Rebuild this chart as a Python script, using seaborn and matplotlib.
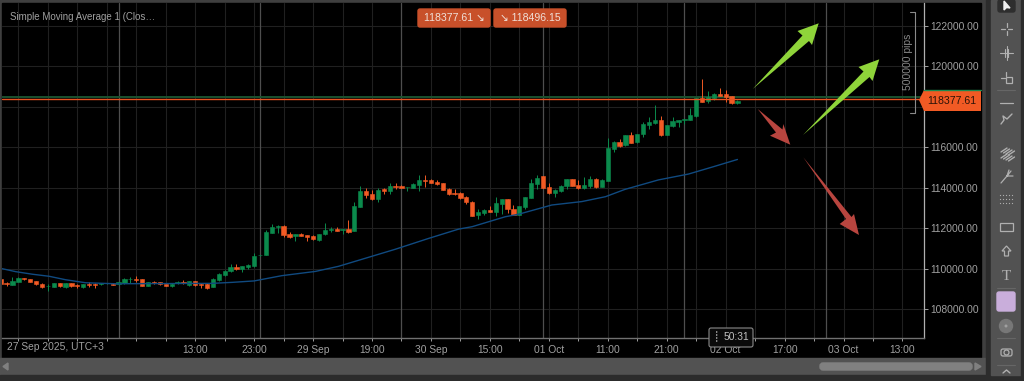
import matplotlib
matplotlib.use('Agg')
import matplotlib.pyplot as plt
from matplotlib.patches import Rectangle, Polygon, FancyBboxPatch, Circle
import pandas as pd
import seaborn as sns

# candles (prices)
opens = [109500, 109300, 109200, 109360, 109530, 109500, 109380, 109260, 109150, 109120,
         109280, 109100, 109280, 109180, 109100, 109250, 109250, 109230, 109280, 109260,
         109230, 109280, 109480, 109480, 109480, 109170, 109350, 109330, 109250, 109150,
         109280, 109350, 109220, 109400, 109260, 109250, 109120, 109430, 109680, 109870,
         110090, 110000, 110100, 110140, 110660, 110700, 111780, 112050, 112130, 111720,
         111600, 111720, 111650, 111640, 111420, 111700, 111900, 111970, 111920, 111970,
         111870, 113050, 113860, 113680, 113450, 113920, 113840, 114090, 114090, 114020,
         114010, 114150, 114390, 114390, 114300, 114220, 113940, 113730, 113740, 113560,
         113320, 112660, 112740, 112890, 112820, 113200, 113430, 112970, 112670, 113050,
         113510, 114190, 114580, 114020, 113760, 113860, 114070, 114420, 114140, 113970,
         114110, 114440, 114060, 114350, 115930, 116280, 116100, 116630, 116250, 116640,
         117120, 117200, 117370, 116610, 117070, 117270, 117370, 117370, 117560, 118420,
         118290, 118450, 118630, 118620, 118540, 118190]
closes = [109250, 109230, 109400, 109530, 109480, 109360, 109230, 109080, 109170, 109280,
          109130, 109280, 109130, 109150, 109230, 109220, 109220, 109280, 109300, 109200,
          109330, 109500, 109500, 109450, 109170, 109330, 109280, 109230, 109150, 109260,
          109350, 109310, 109380, 109220, 109220, 109070, 109500, 109730, 109890, 110090,
          109990, 110120, 110190, 110630, 110680, 111820, 112050, 112130, 111670, 111590,
          111700, 111640, 111590, 111450, 111720, 111920, 111970, 111880, 111950, 111830,
          113100, 113860, 113640, 113430, 113910, 113840, 114090, 114020, 114010, 114040,
          114190, 114370, 114350, 114250, 114170, 113910, 113710, 113690, 113510, 113300,
          112620, 112790, 112900, 112820, 113250, 113450, 112950, 112670, 113080, 113550,
          114220, 114480, 113990, 113740, 113890, 114110, 114420, 114110, 113990, 114140,
          114420, 114060, 114390, 115950, 116280, 116050, 116610, 116230, 116660, 117140,
          117250, 117350, 116590, 117100, 117300, 117350, 117380, 117600, 118440, 118260,
          118470, 118620, 118550, 118500, 118170, 118300]
highs = [109510, 109350, 109580, 109580, 109540, 109510, 109410, 109280, 109230, 109310,
         109310, 109310, 109300, 109250, 109250, 109330, 109280, 109300, 109310, 109300,
         109350, 109560, 109580, 109660, 109500, 109360, 109380, 109350, 109260, 109280,
         109400, 109430, 109410, 109410, 109300, 109280, 109560, 109780, 109940, 110250,
         110250, 110150, 110250, 110760, 110700, 111920, 112200, 112180, 112150, 111830,
         111720, 111770, 111670, 111680, 111730, 112260, 112050, 112050, 111960, 112410,
         113310, 114090, 113970, 113890, 113970, 114010, 114250, 114250, 114120, 114060,
         114220, 114620, 114650, 114450, 114370, 114240, 113970, 113920, 113780, 113580,
         113330, 112970, 112940, 113100, 113530, 113460, 113450, 113150, 113100, 113560,
         114440, 114620, 114600, 114220, 113920, 114140, 114450, 114440, 114390, 114550,
         114580, 114490, 114420, 116440, 116310, 116430, 116630, 116740, 116670, 117270,
         117510, 118090, 117550, 117120, 117480, 117370, 117400, 117940, 118450, 119360,
         118770, 118670, 118930, 118830, 118550, 118320]
lows = [109230, 109170, 109200, 109350, 109460, 109350, 109180, 109070, 108920, 109100,
        109120, 109070, 109120, 109070, 109030, 109120, 109030, 109200, 109250, 109180,
        109220, 109260, 109310, 109350, 109150, 109150, 109260, 109220, 109130, 109100,
        109250, 109260, 109150, 109150, 109050, 109020, 109100, 109400, 109640, 109860,
        109940, 109860, 109970, 110100, 110650, 110680, 111750, 111780, 111550, 111500,
        111390, 111600, 111390, 111420, 111360, 111670, 111830, 111870, 111730, 111750,
        111850, 113030, 113480, 113400, 113300, 113680, 113680, 113920, 113970, 113860,
        113990, 113860, 114060, 114220, 114140, 113890, 113640, 113640, 113430, 113200,
        112590, 112460, 112640, 112790, 112620, 112710, 112740, 112660, 112660, 112970,
        113480, 113940, 113970, 113690, 113560, 113810, 113960, 114090, 113920, 113960,
        113970, 114010, 114040, 114320, 115790, 116000, 116080, 116210, 116230, 116530,
        116910, 117150, 116580, 116590, 117020, 116990, 117150, 117350, 117510, 118220,
        118210, 118350, 118540, 118260, 118120, 118120]

# moving average, read at the places where it visibly bends
sma_index = [-0.3, 2.5, 5.4, 8.2, 11, 14.4, 19.5, 35.9, 39.3, 43, 47.7, 53.4, 57.3,
             66.9, 72.6, 77.7, 80, 85.6, 87.8, 93.5, 98.6, 102.6, 105.9, 111.6, 116.7, 120.9, 125]
sma_values = [110040, 109860, 109730, 109630, 109460, 109310, 109260, 109280, 109330, 109400,
              109660, 109870, 110120, 110960, 111500, 111960, 112080, 112570, 112690, 113150,
              113320, 113560, 113920, 114390, 114680, 115040, 115400]

bid_price = 118377.61
ask_price = 118496.15

price_ticks = [108000, 110000, 112000, 114000, 116000, 118000, 120000, 122000]
price_labels = ['108000.00', '110000.00', '112000.00', '114000.00', '116000.00', '', '120000.00', '122000.00']
time_labels = ['13:00', '23:00', '29 Sep', '19:00', '30 Sep', '15:00', '01 Oct', '11:00',
               '21:00', '02 Oct', '17:00', '03 Oct', '13:00']
day_lines = [20, 44, 68, 92, 116, 140]

GREEN = '#0b8a4c'
ORANGE = '#f15a24'
GREY = '#a0a0a0'
PANEL = '#525252'

sns.set_theme(style='dark')
plt.rcParams['font.family'] = ['Liberation Sans', 'DejaVu Sans']

candles = pd.DataFrame({'open': opens, 'close': closes, 'high': highs, 'low': lows})
candles['x'] = candles.index
candles['colour'] = [GREEN if c >= o else ORANGE for o, c in zip(opens, closes)]
sma = pd.DataFrame({'x': sma_index, 'sma': sma_values})

fig = plt.figure(figsize=(10.24, 3.81), dpi=100, facecolor='#3f3f3f')


def pixel_axes(zorder):
    a = fig.add_axes([0, 0, 1, 1], zorder=zorder)
    a.set_xlim(0, 1024)
    a.set_ylim(381, 0)
    a.axis('off')
    a.patch.set_alpha(0)
    return a


back = pixel_axes(0)
front = pixel_axes(5)

# window frame behind the chart
back.add_patch(Rectangle((2, 3), 979, 355, color='black'))
back.add_patch(Rectangle((0, 358), 986, 17, color=PANEL))
back.add_patch(Rectangle((0, 375), 1024, 6, color='#2c2c2c'))
back.add_patch(Rectangle((986, 0), 5, 375, color='#2c2c2c'))
back.add_patch(Rectangle((991, 0), 30, 375, color=PANEL))
back.add_patch(Rectangle((1021, 0), 3, 381, color='#2c2c2c'))
back.add_patch(FancyBboxPatch((820, 363), 152, 7, boxstyle='round,pad=0,rounding_size=3', color='#808080'))
back.add_patch(Polygon([(3, 366.5), (8, 363), (8, 370)], color='#808080'))
back.add_patch(Polygon([(981, 366.5), (975, 363), (975, 370)], color='#808080'))

# main chart
ax = fig.add_axes([2 / 1024, 43 / 381, 922 / 1024, 335 / 381], zorder=1, facecolor='black')
ax.set_xlim(0.22, 156.65)
ax.set_ylim(106581, 123128)

ax.set_xticks(range(3, 156, 5))
ax.set_xticklabels(['' if (i - 3) % 10 or i < 33 else time_labels[(i - 33) // 10] for i in range(3, 156, 5)])
ax.set_yticks(price_ticks)
ax.set_yticklabels(price_labels)
ax.yaxis.tick_right()
ax.grid(True, color='#202020', linewidth=0.8)
ax.set_axisbelow(True)
ax.tick_params(axis='x', colors=GREY, labelsize=7.4, length=2, width=0.7, pad=3, bottom=True)
ax.tick_params(axis='y', colors=GREY, labelsize=7.4, length=3, width=0.7, pad=1.5, right=True)
for side in ['top', 'left']:
    ax.spines[side].set_visible(False)
ax.spines['right'].set_color('#b0b0b0')
ax.spines['right'].set_linewidth(0.9)
ax.spines['bottom'].set_color('#707070')
ax.spines['bottom'].set_linewidth(1.0)

for d in day_lines:
    ax.axvline(d, color='#4e4e4e', linewidth=0.9, zorder=1)

ax.vlines(candles['x'], candles['low'], candles['high'], color=candles['colour'], linewidth=0.7, zorder=3)
ax.bar(candles['x'], (candles['close'] - candles['open']).abs(),
       bottom=candles[['open', 'close']].min(axis=1), width=0.72,
       color=candles['colour'], edgecolor=candles['colour'], linewidth=0.4, zorder=4)

sns.lineplot(data=sma, x='x', y='sma', ax=ax, color='#104a80', linewidth=1.0, zorder=5)
ax.set_xlabel('')
ax.set_ylabel('')

ax.axhline(ask_price, color='#1a5230', linewidth=1.4, zorder=2)
ax.axhline(bid_price, color='#e8521f', linewidth=1.0, zorder=6)

ax.text(1, -0.028, '27 Sep 2025, UTC+3', color=GREY, fontsize=7.4, ha='left', va='center',
        transform=ax.get_xaxis_transform())


# arrows and overlays
def arrow(points, colour):
    front.add_patch(Polygon(points, closed=True, facecolor=colour, edgecolor='none'))


LIME = '#8fd43a'
RED = '#b8453f'
arrow([(818.7, 23.3), (797.5, 31), (802.5, 35.5), (752.7, 89), (809, 41), (812, 45)], LIME)
arrow([(879.3, 59.3), (858.5, 67), (863.5, 71.5), (803, 135), (869.5, 77), (872.5, 81)], LIME)
arrow([(790.3, 144.7), (770, 135.7), (776, 132.5), (757.7, 109), (782.5, 129.5), (783.3, 124)], RED)
arrow([(859, 235), (839.7, 224), (846, 219), (803.3, 157.3), (851.5, 217), (854, 214)], RED)

# pips bracket
front.plot([910, 915, 915, 910], [12, 12, 113, 113], color='#8a8a8a', linewidth=0.8)
front.text(908, 62, '500000 pips', rotation=90, color='#8a8a8a', fontsize=7.4, ha='center', va='center')

# current price tag
front.add_patch(Polygon([(919, 100), (924, 90), (981, 90), (981, 111), (924, 111)], facecolor=ORANGE, edgecolor='none'))
front.plot([924, 981], [90, 90], color='#1c8a50', linewidth=1)
front.text(951.5, 100.5, f'{bid_price:.2f}', color='#2a1208', fontsize=7.6, ha='center', va='center')

# legend and bid / ask badges
front.text(10, 16.5, 'Simple Moving Average 1 (Clos…', color=GREY, fontsize=7, ha='left', va='center')
for x0, w, label in [(418, 72, f'{bid_price:.2f} ↘'), (494, 72, f'↘ {ask_price:.2f}')]:
    front.add_patch(FancyBboxPatch((x0, 9), w, 18, boxstyle='round,pad=0,rounding_size=2', color='#c8502a'))
    front.text(x0 + w / 2, 18, label, color='#f0e0d8', fontsize=7.6, ha='center', va='center')

# countdown box
front.add_patch(FancyBboxPatch((709, 328), 44, 19, boxstyle='round,pad=0,rounding_size=2',
                               facecolor='#0a0a0a', edgecolor='#8a8a8a', linewidth=0.8))
front.text(736.5, 337.5, '50:31', color='#c0c0c0', fontsize=7.4, ha='center', va='center')
for gy in [332, 335, 338, 341]:
    front.plot([715.5, 717.5], [gy, gy], color='#a0a0a0', linewidth=1.2, linestyle=(0, (0.8, 0.8)))

# toolbar
ICON = '#b0b0b0'
front.add_patch(FancyBboxPatch((998, 0), 17, 12, boxstyle='round,pad=0,rounding_size=2', color='#2e2e2e'))
front.add_patch(Polygon([(1004, 1), (1004, 10), (1006.5, 7.5), (1010, 8)], color='#f0f0f0'))
front.plot([1001, 1005, None, 1008, 1012, None, 1006.5, 1006.5, None, 1006.5, 1006.5],
           [29, 29, None, 29, 29, None, 23, 27, None, 31, 35], color=ICON, linewidth=0.9)
front.plot([1000, 1013, None, 1006.5, 1006.5, None, 1005, 1005, None, 1008, 1008],
           [53, 53, None, 46, 60, None, 49, 57, None, 49, 57], color=ICON, linewidth=0.8)
front.plot([1001, 1005, None, 1006, 1006], [78, 78, None, 72, 76], color=ICON, linewidth=0.9)
front.add_patch(Rectangle((1006, 77), 6, 6, facecolor='none', edgecolor=ICON, linewidth=0.9))
front.plot([1000, 1013], [103, 103], color=ICON, linewidth=0.9)
for sep in [90, 288, 338, 365]:
    front.plot([997, 1015], [sep, sep], color='#666666', linewidth=0.8)
front.plot([1001, 1004, 1003, 1007, 1012], [124, 120, 116, 119, 114], color=ICON, linewidth=1.0)
for off in range(4):
    front.plot([1001 + off * 2.5, 1007 + off * 2.5], [152 + off, 148 + off], color=ICON, linewidth=1.0)
    front.plot([1001 + off * 2.5, 1007 + off * 2.5], [158 + off, 154 + off], color=ICON, linewidth=1.0)
front.plot([1001, 1007, None, 1007, 1013, None, 1007, 1011, None, 1007, 1009],
           [183, 176, None, 176, 176, None, 176, 171, None, 176, 170], color=ICON, linewidth=0.9)
front.scatter([1000 + i * 3 for i in range(5)] * 3, [195] * 5 + [199] * 5 + [203] * 5, s=0.8, color=ICON, linewidths=0)
front.add_patch(Rectangle((1000, 222.5), 13, 8.5, facecolor='none', edgecolor=ICON, linewidth=0.9))
front.add_patch(Polygon([(1006.5, 246), (1011, 251), (1008.5, 251), (1008.5, 256), (1004.5, 256), (1004.5, 251), (1002, 251)],
                        facecolor='none', edgecolor=ICON, linewidth=0.9))
front.text(1006.5, 276, 'T', color=ICON, fontsize=11, ha='center', va='center', family='Liberation Serif')
front.add_patch(FancyBboxPatch((997, 292), 18, 19, boxstyle='round,pad=0,rounding_size=2', color='#c9aedb'))
front.add_patch(Circle((1006, 326), 6.5, color='#777777'))
front.add_patch(Circle((1006, 326), 0.8, color='#a0a0a0'))
front.add_patch(FancyBboxPatch((1001, 349), 11, 7, boxstyle='round,pad=0,rounding_size=2', facecolor='none', edgecolor=ICON, linewidth=0.9))
front.add_patch(Circle((1006.5, 352.5), 2.5, facecolor='none', edgecolor=ICON, linewidth=0.9))
front.plot([1003, 1006.5, 1010], [373, 370, 373], color=ICON, linewidth=1.0)

fig.savefig('out.png', dpi=100, facecolor=fig.get_facecolor())
